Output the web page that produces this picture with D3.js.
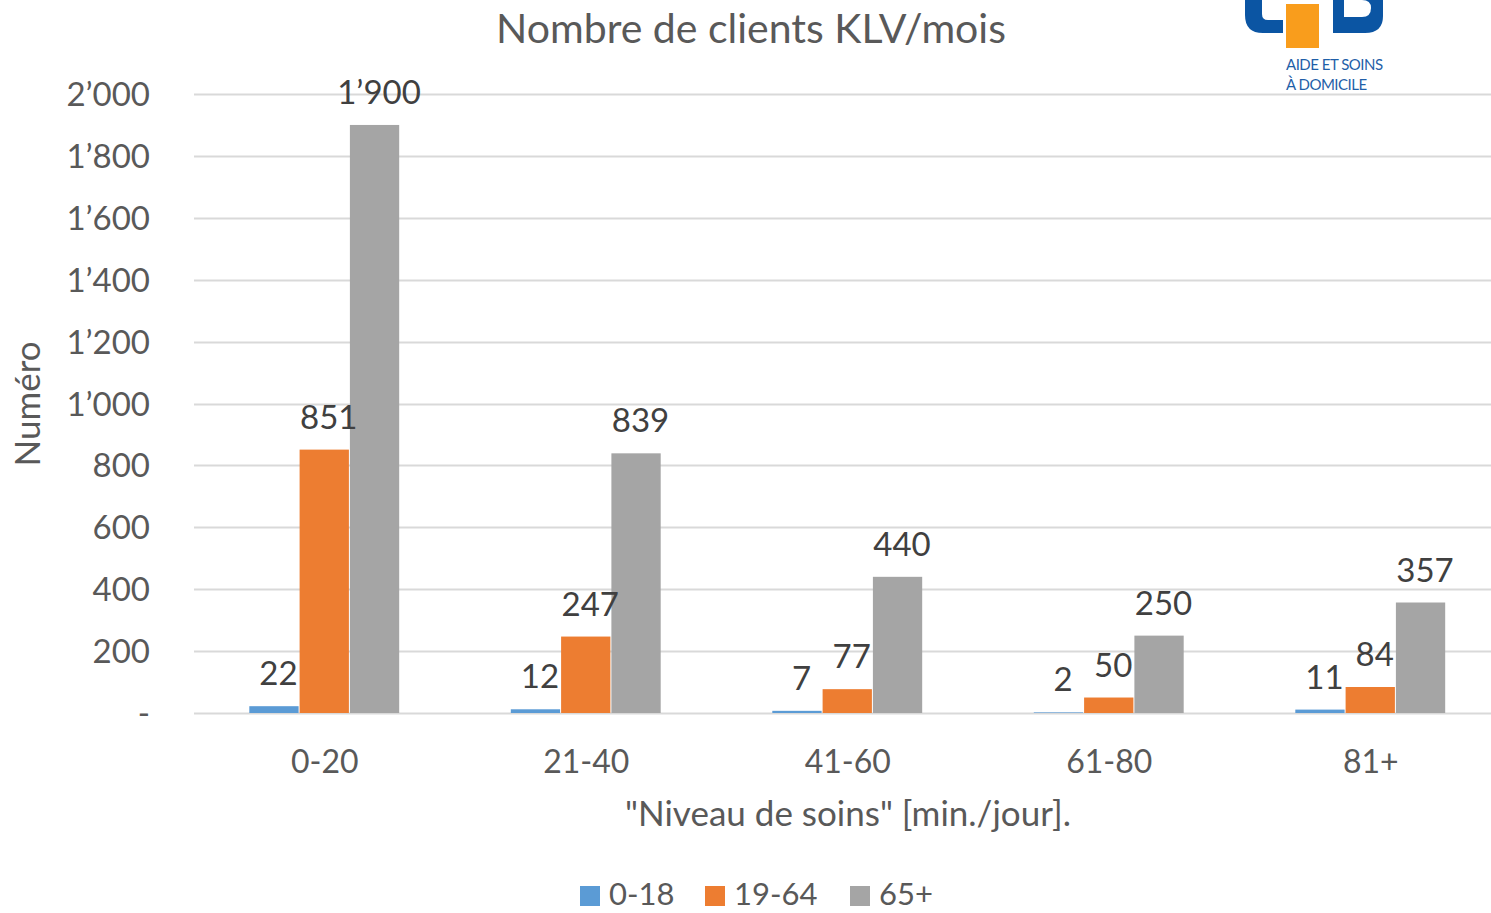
<!DOCTYPE html>
<html>
<head>
<meta charset="utf-8">
<script src="https://cdn.jsdelivr.net/npm/d3@7"></script>
<style>
  html, body { margin: 0; padding: 0; background: #fff; }
  svg { display: block; }
  text { font-family: Lato, "Open Sans", sans-serif; }
</style>
</head>
<body>
<svg id="chart" width="1491" height="913"></svg>
<script>
// ---- data ----
const categories = ["0-20", "21-40", "41-60", "61-80", "81+"];
const seriesNames = ["0-18", "19-64", "65+"];
const values0to18 = [22, 12, 7, 2, 11];
const values19to64 = [851, 247, 77, 50, 84];
const values65plus = [1900, 839, 440, 250, 357];
const yTicks = [0, 200, 400, 600, 800, 1000, 1200, 1400, 1600, 1800, 2000];
const colors = ["#5B9BD5", "#ED7D31", "#A5A5A5"];
const titleText = "Nombre de clients KLV/mois";
const yTitleText = "Numéro";
const xTitleText = "\"Niveau de soins\" [min./jour].";

const seriesValues = [values0to18, values19to64, values65plus];

const svg = d3.select("#chart");
const W = 1491, H = 913;
const plot = { left: 194, right: 1501.5, top: 94, bottom: 713 };

const locale = d3.formatLocale({ decimal: ".", thousands: "\u2019", grouping: [3], currency: ["", ""] });
const fmt = locale.format(",d");
const tickFmt = v => v === 0 ? "-" : fmt(v);

const y = d3.scaleLinear().domain([0, 2000]).range([plot.bottom, plot.top]);
const x0 = d3.scaleBand().domain(categories).range([plot.left, plot.right]).padding(0);
const step = x0.bandwidth();
const x1 = d3.scaleBand().domain(seriesNames).range([step * 0.2115, step * 0.7885]).padding(0);

// gridlines
const grid = svg.append("g");
grid.selectAll("line").data(yTicks).join("line")
  .attr("x1", plot.left).attr("x2", W)
  .attr("y1", d => Math.round(y(d)) + 0.5).attr("y2", d => Math.round(y(d)) + 0.5)
  .attr("stroke", "#D9D9D9").attr("stroke-width", 2);

// y axis labels
const yAxis = d3.axisLeft(y).tickValues(yTicks).tickFormat(tickFmt).tickSize(0).tickPadding(0);
const yg = svg.append("g").attr("transform", `translate(150,0)`).call(yAxis);
yg.select(".domain").remove();
yg.selectAll("text").attr("font-family", "Lato, sans-serif").attr("font-size", 33)
  .attr("fill", "#595959").attr("dy", "0.35em");

// x axis labels
const xAxis = d3.axisBottom(x0).tickSize(0).tickPadding(0);
const xg = svg.append("g").attr("transform", `translate(0,773)`).call(xAxis);
xg.select(".domain").remove();
xg.selectAll("text").attr("font-family", "Lato, sans-serif").attr("font-size", 32)
  .attr("fill", "#595959").attr("dy", 0);

// bars
const rows = categories.map((c, i) => ({ cat: c, vals: seriesNames.map((s, j) => ({ s, j, v: seriesValues[j][i] })) }));
const groups = svg.append("g").selectAll("g").data(rows).join("g")
  .attr("transform", d => `translate(${x0(d.cat)},0)`);
groups.selectAll("rect").data(d => d.vals).join("rect")
  .attr("x", d => x1(d.s)).attr("width", x1.bandwidth() - 1)
  .attr("y", d => y(d.v)).attr("height", d => y(0) - y(d.v))
  .attr("fill", d => colors[d.j]);
groups.selectAll("text").data(d => d.vals).join("text")
  .attr("x", d => x1(d.s) + x1.bandwidth() / 2 + 4)
  .attr("y", d => y(d.v) - 21)
  .attr("text-anchor", "middle")
  .attr("font-size", 33).attr("fill", "#404040")
  .text(d => fmt(d.v));

// title
svg.append("text").attr("x", 751).attr("y", 43).attr("text-anchor", "middle")
  .attr("font-size", 41).attr("fill", "#595959").text(titleText);

// y title
svg.append("text").attr("transform", "translate(40,404) rotate(-90)").attr("text-anchor", "middle")
  .attr("font-size", 35).attr("fill", "#595959").text(yTitleText);

// x title
svg.append("text").attr("x", 848).attr("y", 826).attr("text-anchor", "middle")
  .attr("font-size", 35).attr("fill", "#595959").text(xTitleText);

// legend
const legendX = [580, 705, 850];
const lg = svg.append("g").selectAll("g").data(seriesNames).join("g")
  .attr("transform", (d, i) => `translate(${legendX[i]},886)`);
lg.append("rect").attr("width", 20).attr("height", 20).attr("fill", (d, i) => colors[i]);
lg.append("text").attr("x", 29).attr("y", 19).attr("font-size", 31).attr("fill", "#595959").text(d => d);

// logo (partial, cropped at top)
const logo = svg.append("g");
const blue = "#0B55A3";
logo.append("path").attr("fill", blue)
  .attr("d", "M1245,0 L1262,0 L1262,14 Q1262,20 1268,20 L1283,20 L1283,33 L1263,33 Q1245,33 1245,15 Z");
logo.append("rect").attr("x", 1286).attr("y", 4).attr("width", 33).attr("height", 44).attr("fill", "#F99D1C");
logo.append("path").attr("fill", blue)
  .attr("d", "M1333,0 L1383,0 L1383,16 Q1383,33 1365,33 L1333,33 Z");
logo.append("path").attr("fill", "#fff")
  .attr("d", "M1344,0 L1362,0 Q1371,0 1371,8 Q1371,17 1362,17 L1344,17 Z");
logo.append("text").attr("x", 1286).attr("y", 70).attr("font-size", 15).attr("fill", "#1F5FA8")
  .attr("font-family", "Open Sans, sans-serif").attr("letter-spacing", -0.5).text("AIDE ET SOINS");
logo.append("text").attr("x", 1286).attr("y", 90).attr("font-size", 15).attr("fill", "#1F5FA8")
  .attr("font-family", "Open Sans, sans-serif").attr("letter-spacing", -0.5).text("À DOMICILE");
</script>
</body>
</html>
